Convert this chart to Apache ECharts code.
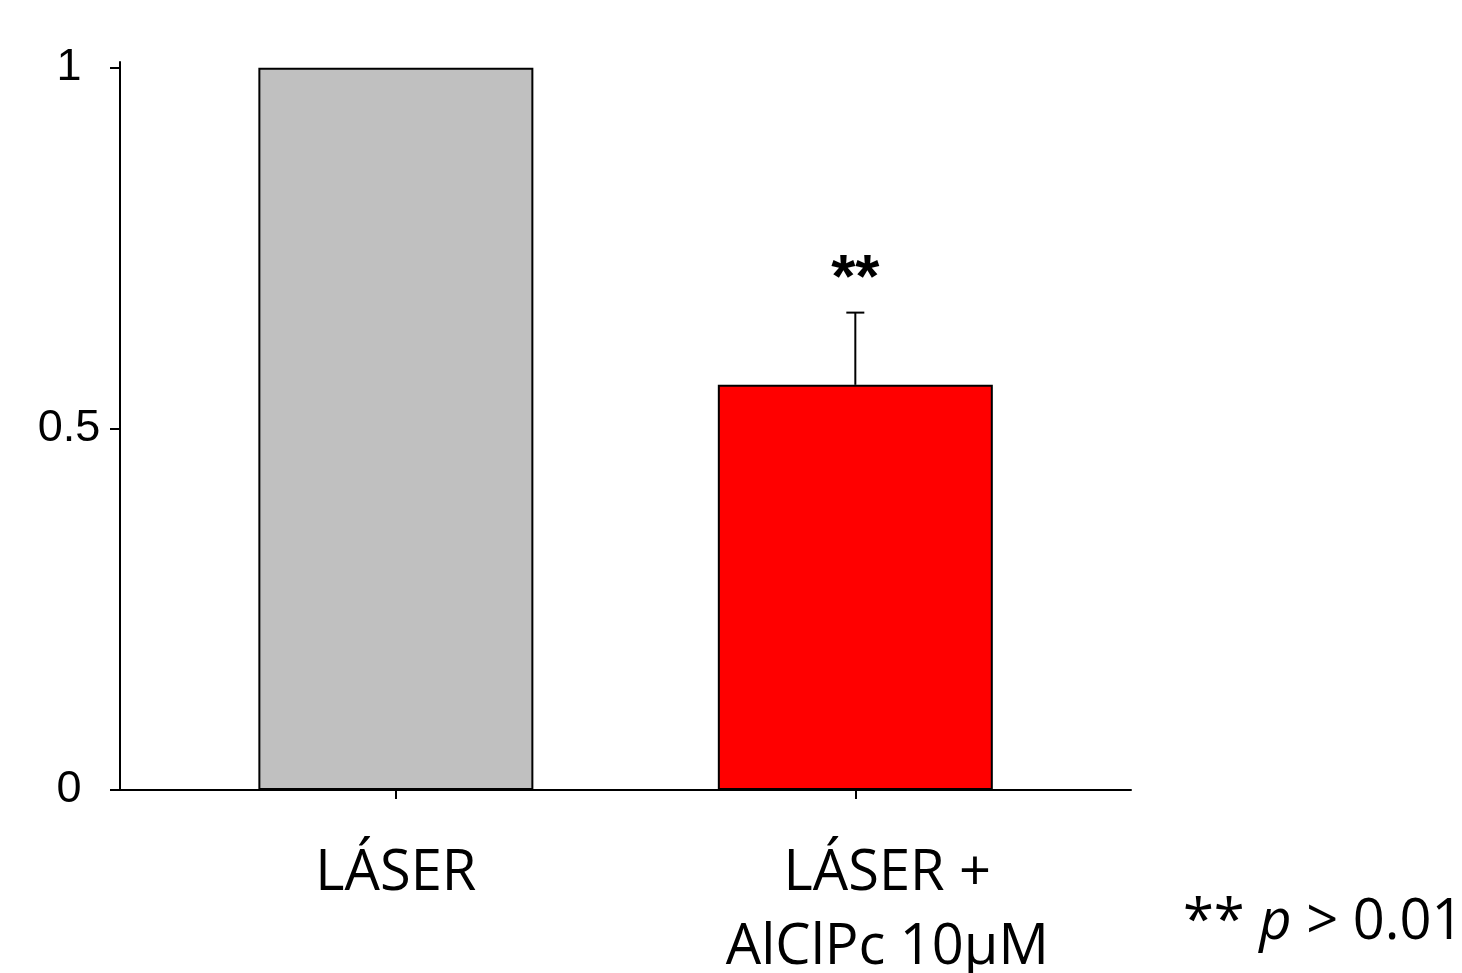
<!DOCTYPE html>
<html>
<head>
<meta charset="utf-8">
<script src="https://cdn.jsdelivr.net/npm/echarts@6/dist/echarts.min.js"></script>
<style>
html,body{margin:0;padding:0;background:#fff;}
#chart{width:1462px;height:973px;}
</style>
</head>
<body>
<div id="chart"></div>
<script>
// ---- data ----
var categories = ['LÁSER', 'LÁSER +\nAlClPc 10µM'];
var positions = [1, 2];
var values = [1.0, 0.561];
var errors = [0, 0.10];
var sigMarks = ['', '**'];
var barColors = ['#c0c0c0', '#ff0000'];
var yTicks = [0, 0.5, 1];
var footnote = { stars: '** ', p: 'p', rest: ' > 0.01' };

var chart = echarts.init(document.getElementById('chart'), null, { renderer: 'canvas' });

var barData = positions.map(function (p, i) {
  return { value: [p, values[i]], itemStyle: { color: barColors[i] } };
});
var errData = positions.map(function (p, i) {
  return [p, values[i], errors[i], i];
});

var option = {
  animation: false,
  backgroundColor: '#ffffff',
  grid: { left: 111, right: 331, top: 62, bottom: 183, containLabel: false, outerBoundsMode: 'none' },
  xAxis: {
    type: 'value',
    min: 0.38,
    max: 2.6,
    splitLine: { show: false },
    axisLine: { show: true, onZero: false, lineStyle: { color: '#000', width: 2 } },
    axisTick: { show: true, length: 9, customValues: positions, lineStyle: { color: '#000', width: 2 } },
    axisLabel: {
      customValues: positions,
      formatter: function (v) {
        var i = positions.indexOf(v);
        if (i === 0) return '{a|' + categories[0] + '}';
        return categories[i].split('\n').map(function (s) { return '{b|' + s + '}'; }).join('\n');
      },
      fontFamily: 'Open Sans',
      fontSize: 56,
      lineHeight: 74,
      color: '#000',
      margin: 47,
      rich: {
        a: { fontFamily: 'Open Sans', fontSize: 56, lineHeight: 74, color: '#000' },
        b: { fontFamily: 'Open Sans', fontSize: 56, lineHeight: 74, color: '#000', padding: [0, 0, 0, 64] }
      }
    }
  },
  yAxis: {
    type: 'value',
    min: 0,
    max: 1.008,
    offset: -9,
    splitLine: { show: false },
    axisLine: { show: true, onZero: false, lineStyle: { color: '#000', width: 2 } },
    axisTick: { show: true, length: 10, customValues: yTicks, lineStyle: { color: '#000', width: 2 } },
    axisLabel: {
      customValues: yTicks,
      formatter: function (v) { return String(v); },
      fontFamily: 'Liberation Sans, Arial',
      fontSize: 45,
      color: '#000',
      align: 'center',
      margin: 51
    }
  },
  series: [
    {
      type: 'bar',
      data: barData,
      barWidth: 275,
      itemStyle: { borderColor: '#000', borderWidth: 2 },
      z: 2
    },
    {
      type: 'custom',
      data: errData,
      z: 3,
      renderItem: function (params, api) {
        var x = api.value(0), y = api.value(1), e = api.value(2), idx = api.value(3);
        var children = [];
        var base = api.coord([x, y]);
        var top = api.coord([x, y + e]);
        if (e > 0) {
          children.push({
            type: 'line',
            shape: { x1: base[0], y1: base[1], x2: top[0], y2: top[1] },
            style: { stroke: '#000', lineWidth: 2 }
          });
          children.push({
            type: 'line',
            shape: { x1: top[0] - 9, y1: top[1], x2: top[0] + 9, y2: top[1] },
            style: { stroke: '#000', lineWidth: 2 }
          });
        }
        if (sigMarks[idx]) {
          children.push({
            type: 'text',
            style: {
              x: top[0], y: top[1] - 33,
              text: sigMarks[idx],
              fill: '#000',
              font: 'bold 62px "Liberation Sans", Arial',
              align: 'center',
              verticalAlign: 'middle'
            }
          });
        }
        return { type: 'group', children: children };
      }
    }
  ],
  graphic: [
    {
      type: 'text',
      left: 1183,
      top: 895,
      style: {
        text: '{a|' + footnote.stars + '}{b|' + footnote.p + '}{a|' + footnote.rest + '}',
        rich: {
          a: { fontFamily: 'Open Sans', fontSize: 56, fill: '#000', color: '#000' },
          b: { fontFamily: 'Open Sans', fontSize: 56, fontStyle: 'italic', fill: '#000', color: '#000' }
        }
      }
    }
  ]
};
chart.setOption(option);
</script>
</body>
</html>
